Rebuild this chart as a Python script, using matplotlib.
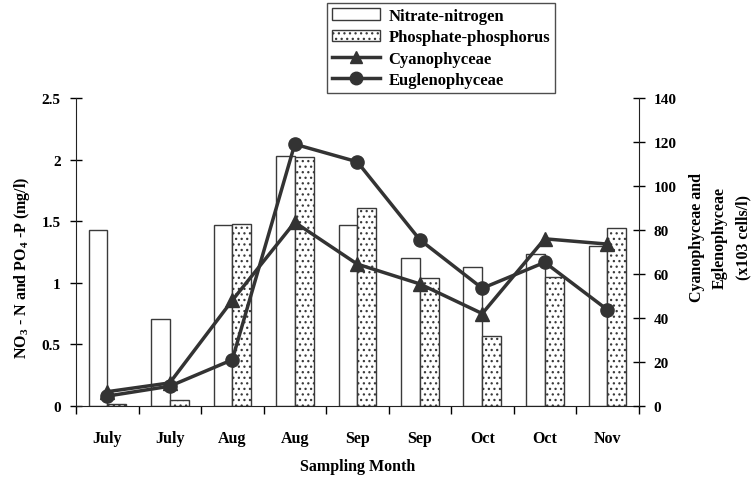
import matplotlib
matplotlib.use("Agg")
import matplotlib.pyplot as plt
import numpy as np
from matplotlib.lines import Line2D
from matplotlib.patches import Patch

plt.rcParams['font.family'] = ['Liberation Serif', 'DejaVu Serif']
plt.rcParams['font.weight'] = 'bold'
plt.rcParams['mathtext.fontset'] = 'custom'
plt.rcParams['mathtext.rm'] = 'Liberation Serif:bold'
plt.rcParams['mathtext.it'] = 'Liberation Serif:bold'
plt.rcParams['mathtext.bf'] = 'Liberation Serif:bold'
plt.rcParams['hatch.color'] = '#8a8a8a'
plt.rcParams['hatch.linewidth'] = 0.9

months = ["July", "July", "Aug", "Aug", "Sep", "Sep", "Oct", "Oct", "Nov"]
nitrate = [1.43, 0.71, 1.47, 2.03, 1.47, 1.20, 1.13, 1.23, 1.30]
phosphate = [0.02, 0.05, 1.48, 2.02, 1.61, 1.04, 0.57, 1.045, 1.445]
cyano = [6.5, 10.5, 48, 83.5, 64.5, 55.5, 42, 76, 73.6]
eugleno = [4.5, 9, 21, 119, 111, 75.6, 53.5, 65.3, 43.8]

fig = plt.figure(figsize=(7.52, 4.81), dpi=100)
ax = fig.add_axes([76/752, 1-407/481, (638.5-76)/752, (407-99)/481])
ax2 = ax.twinx()

x = np.arange(len(months))
w = 0.3
edge = '#3a3a3a'
ax.bar(x - w/2, nitrate, w, color='white', edgecolor=edge, linewidth=1.0, zorder=2)
ax.bar(x + w/2, phosphate, w, color='white', edgecolor=edge, linewidth=1.0,
       hatch='...', zorder=2)

lc = '#333333'
ax2.plot(x, cyano, color=lc, lw=2.5, marker='^', markersize=9.5, zorder=3)
ax2.plot(x, eugleno, color=lc, lw=2.5, marker='o', markersize=9.5, zorder=3)

ax.set_xlim(-0.5, len(months) - 0.5)
ax.set_ylim(0, 2.5)
ax2.set_ylim(0, 140)
ax.set_yticks([0, 0.5, 1, 1.5, 2, 2.5])
ax.set_yticklabels(['0', '0.5', '1', '1.5', '2', '2.5'])
ax2.set_yticks(np.arange(0, 141, 20))

ax.set_xticks(x)
ax.set_xticklabels(months)
ax.set_xticks(np.arange(-0.5, len(months), 1), minor=True)
ax.tick_params(axis='x', which='major', length=0, pad=17, labelsize=11.5)
ax.tick_params(axis='x', which='minor', length=6, width=1, direction='out')
ax.tick_params(axis='y', direction='inout', length=8, width=1, labelsize=11, pad=7)
ax2.tick_params(axis='y', direction='inout', length=8, width=1, labelsize=11, pad=7)

for a in (ax, ax2):
    a.spines['top'].set_visible(False)
ax.spines['right'].set_visible(False)
ax2.spines['left'].set_visible(False)
ax2.spines['bottom'].set_visible(False)
for sp in ('left', 'bottom'):
    ax.spines[sp].set_color('#222222')
ax2.spines['right'].set_color('#222222')

for lab in ax.get_xticklabels() + ax.get_yticklabels() + ax2.get_yticklabels():
    lab.set_fontweight('bold')

fig.text(358/752, 1-467/481, "Sampling Month", ha='center', va='center',
         fontsize=11.5, fontweight='bold')
fig.text(22/752, 1-268/481, r"NO$_3$ - N and PO$_4$ -P (mg/l)", ha='center',
         va='center', rotation=90, fontsize=11.5, fontweight='bold')
fig.text(720/752, 1-238/481, "Cyanophyceae and\nEglenophyceae\n(x103 cells/l)",
         ha='center', va='center', rotation=90, fontsize=11.5, fontweight='bold',
         linespacing=1.6, multialignment='center')

handles = [
    Patch(facecolor='white', edgecolor=edge, linewidth=1.0),
    Patch(facecolor='white', edgecolor=edge, linewidth=1.0, hatch='...'),
    Line2D([], [], color=lc, lw=2.5, marker='^', markersize=9),
    Line2D([], [], color=lc, lw=2.5, marker='o', markersize=9),
]
labels = ["Nitrate-nitrogen", "Phosphate-phosphorus", "Cyanophyceae", "Euglenophyceae"]
leg = fig.legend(handles, labels, loc='upper left',
                 bbox_to_anchor=(327/752, 1-4/481), frameon=True, fancybox=False,
                 edgecolor='#222222', prop={'weight': 'bold', 'size': 12},
                 handlelength=2.9, handleheight=0.7, labelspacing=0.32,
                 borderpad=0.3, handletextpad=0.5, borderaxespad=0)
leg.get_frame().set_linewidth(1.0)

fig.savefig("out.png", dpi=100)
